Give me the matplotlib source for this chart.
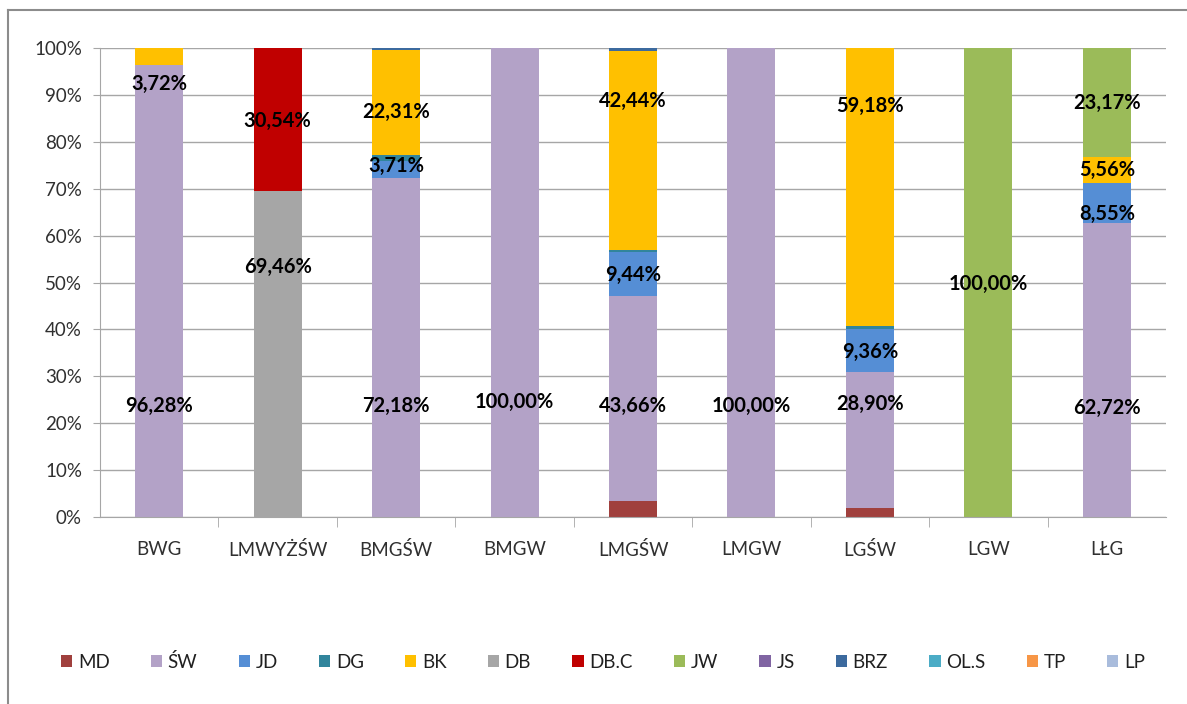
import matplotlib.pyplot as plt
from matplotlib.lines import Line2D
from matplotlib.patches import Patch

plt.rcParams['font.family'] = ['Lato', 'DejaVu Sans']

categories = ['BWG', 'LMWYŻŚW', 'BMGŚW', 'BMGW', 'LMGŚW', 'LMGW', 'LGŚW', 'LGW', 'LŁG']

series_names = ['MD', 'ŚW', 'JD', 'DG', 'BK', 'DB', 'DB.C', 'JW', 'JS', 'BRZ', 'OL.S', 'TP', 'LP']
md = [0, 0, 0, 0, 3.46, 0, 1.92, 0, 0]
sw = [96.28, 0, 72.18, 100, 43.66, 100, 28.90, 0, 62.72]
jd = [0, 0, 3.71, 0, 9.44, 0, 9.36, 0, 8.55]
dg = [0, 0, 1.30, 0, 0.30, 0, 0.64, 0, 0]
bk = [3.72, 0, 22.31, 0, 42.44, 0, 59.18, 0, 5.56]
db = [0, 69.46, 0, 0, 0, 0, 0, 0, 0]
dbc = [0, 30.54, 0, 0, 0, 0, 0, 0, 0]
jw = [0, 0, 0, 0, 0, 0, 0, 100, 23.17]
js = [0] * 9
brz = [0, 0, 0.50, 0, 0.70, 0, 0, 0, 0]
ols = [0] * 9
tp = [0] * 9
lp = [0] * 9
series = [md, sw, jd, dg, bk, db, dbc, jw, js, brz, ols, tp, lp]

colors = ['#A0403D', '#B3A2C7', '#558ED5', '#31859C', '#FFC000', '#A6A6A6', '#C00000',
          '#9BBB59', '#8064A2', '#3C6A9E', '#4BACC6', '#F79646', '#A9BCDC']

# data labels: (category index, value shown, label height in %)
label_cat = [0, 0, 1, 1, 2, 2, 2, 3, 4, 4, 4, 5, 6, 6, 6, 7, 8, 8, 8, 8]
label_val = [96.28, 3.72, 69.46, 30.54, 72.18, 3.71, 22.31, 100.00, 43.66, 9.44, 42.44,
             100.00, 28.90, 9.36, 59.18, 100.00, 62.72, 8.55, 5.56, 23.17]
label_y = [23.7, 92.3, 53.3, 84.4, 23.7, 74.8, 86.4, 24.5, 23.7, 51.6, 88.7,
           23.7, 24.1, 35.2, 87.6, 49.7, 23.2, 64.6, 74.0, 88.3]

fig = plt.figure(figsize=(11.87, 7.04), dpi=100)
ax = fig.add_axes([100 / 1187, 1 - 517 / 704, 1066 / 1187, 469 / 704])

x = list(range(len(categories)))
bottom = [0.0] * len(categories)
for name, vals, c in zip(series_names, series, colors):
    ax.bar(x, vals, 0.405, bottom=bottom, color=c, label=name, zorder=2)
    bottom = [b + v for b, v in zip(bottom, vals)]

for ci, v, yy in zip(label_cat, label_val, label_y):
    ax.text(ci, yy, f'{v:.2f}%'.replace('.', ','), ha='center', va='center',
            fontsize=14.5, fontweight='bold', color='black', zorder=3)

ax.set_xlim(-0.5, len(categories) - 0.5)
ax.set_ylim(0, 100)
ax.set_yticks(range(0, 101, 10))
ax.set_yticklabels([f'{t}%' for t in range(0, 101, 10)], fontsize=13.5, color='#303030')
ax.set_xticks(x)
ax.set_xticklabels(categories, fontsize=13.5, color='#303030')
ax.set_xticks([i + 0.5 for i in x[:-1]], minor=True)
ax.tick_params(axis='x', which='major', length=0, pad=17)
ax.tick_params(axis='x', which='minor', length=7, color='#A6A6A6')
ax.tick_params(axis='y', length=5, color='#A6A6A6', pad=8)
ax.grid(axis='y', color='#A6A6A6', linewidth=1, zorder=0)
ax.set_axisbelow(True)
for s in ['top', 'right']:
    ax.spines[s].set_visible(False)
for s in ['left', 'bottom']:
    ax.spines[s].set_color('#A6A6A6')

handles = [Patch(facecolor=c, edgecolor='none') for c in colors]
fig.legend(handles, series_names, loc='center', bbox_to_anchor=(0.508, 0.06), ncol=13,
           frameon=False, fontsize=13.5, handlelength=0.6, handleheight=0.6,
           handletextpad=0.3, columnspacing=2.2, labelcolor='#202020')

# outer chart border
fig.add_artist(Line2D([8 / 1187, 1.0], [1 - 10 / 704, 1 - 10 / 704], color='#8C8C8C', lw=1.5))
fig.add_artist(Line2D([8 / 1187, 8 / 1187], [0.0, 1 - 10 / 704], color='#8C8C8C', lw=1.5))

fig.savefig('out.png', dpi=100)
